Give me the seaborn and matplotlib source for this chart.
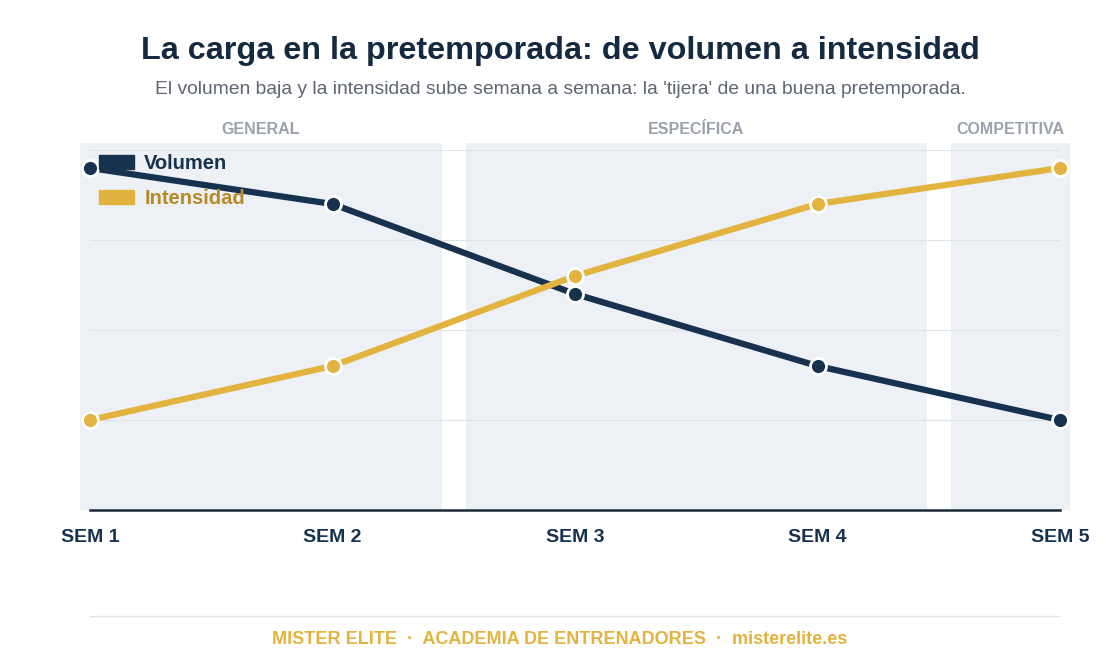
import pandas as pd
import numpy as np
import matplotlib.pyplot as plt
import seaborn as sns
from matplotlib.patches import Patch

semanas = ['SEM 1', 'SEM 2', 'SEM 3', 'SEM 4', 'SEM 5']
volumen = [95, 85, 60, 40, 25]
intensidad = [25, 40, 65, 85, 95]

fases = ['GENERAL', 'ESPECÍFICA', 'COMPETITIVA']
fase_inicio = [-0.04, 1.55, 3.55]
fase_fin = [1.45, 3.45, 4.04]

NAVY = '#17324f'
GOLD = '#e2b33e'
GOLD_TXT = '#b88a26'
BAND = '#edf0f5'

df = pd.DataFrame({
    'semana': semanas * 2,
    'valor': volumen + intensidad,
    'serie': ['Volumen'] * 5 + ['Intensidad'] * 5,
})
df['x'] = df['semana'].map({s: i for i, s in enumerate(semanas)})

sns.set_theme(style='white')
plt.rcParams['font.family'] = ['Liberation Sans', 'DejaVu Sans']

fig = plt.figure(figsize=(11.2, 6.6), dpi=100)
ax = fig.add_axes([90 / 1120, 1 - 510 / 660, 970 / 1120, 360 / 660])

# bandas de fases
for nombre, a, b in zip(fases, fase_inicio, fase_fin):
    ax.axvspan(a, b, ymin=0, ymax=(510 - 143) / 360, color=BAND, zorder=0, clip_on=False, lw=0)
    ax.text((a + b) / 2, 1 + 20 / 360, nombre, transform=ax.get_xaxis_transform(),
            ha='center', va='center', fontsize=11.5, fontweight='bold', color='#9aa1aa')

# grid
for g in [25, 50, 75, 100]:
    ax.axhline(g, color='#dfe2e7', lw=0.8, zorder=1)

sns.lineplot(data=df, x='x', y='valor', hue='serie', palette={'Volumen': NAVY, 'Intensidad': GOLD},
             linewidth=4.5, marker='o', markersize=11.5, markeredgecolor='white', markeredgewidth=2,
             legend=False, ax=ax, zorder=3, clip_on=False)

ax.set_xlim(0, 4)
ax.set_ylim(0, 100)
ax.set_xticks(range(len(semanas)))
ax.set_xticklabels(semanas, fontsize=14, fontweight='bold', color=NAVY)
ax.tick_params(axis='x', length=0, pad=14)
ax.set_yticks([])
ax.set_xlabel('')
ax.set_ylabel('')
for s in ['top', 'right', 'left']:
    ax.spines[s].set_visible(False)
ax.spines['bottom'].set_color('#1b2a3a')
ax.spines['bottom'].set_linewidth(1.8)
ax.spines['bottom'].set_zorder(4)
ax.patch.set_alpha(0)

handles = [Patch(color=NAVY), Patch(color=GOLD)]
leg = ax.legend(handles, ['Volumen', 'Intensidad'], loc='upper left',
                bbox_to_anchor=(99 / 1120, 1 - 154 / 660), bbox_transform=fig.transFigure,
                frameon=False, prop={'weight': 'bold', 'size': 14.5}, handlelength=1.75,
                handleheight=0.75, labelspacing=0.8, handletextpad=0.5, borderaxespad=0,
                borderpad=0)
for t, c in zip(leg.get_texts(), [NAVY, GOLD_TXT]):
    t.set_color(c)

fig.text(0.5, 1 - 51 / 660, 'La carga en la pretemporada: de volumen a intensidad',
         ha='center', va='center', fontsize=23.3, fontweight='bold', color='#152a40')
fig.text(0.5, 1 - 89 / 660,
         "El volumen baja y la intensidad sube semana a semana: la 'tijera' de una buena pretemporada.",
         ha='center', va='center', fontsize=13.9, color='#5e6672')

fig.add_artist(plt.Line2D([90 / 1120, 1060 / 1120], [1 - 616 / 660] * 2, color='#e2e4e8', lw=1))
fig.text(0.5, 1 - 639 / 660, 'MISTER ELITE  ·  ACADEMIA DE ENTRENADORES  ·  misterelite.es',
         ha='center', va='center', fontsize=13, fontweight='bold', color=GOLD)

fig.savefig('out.png', dpi=100)
